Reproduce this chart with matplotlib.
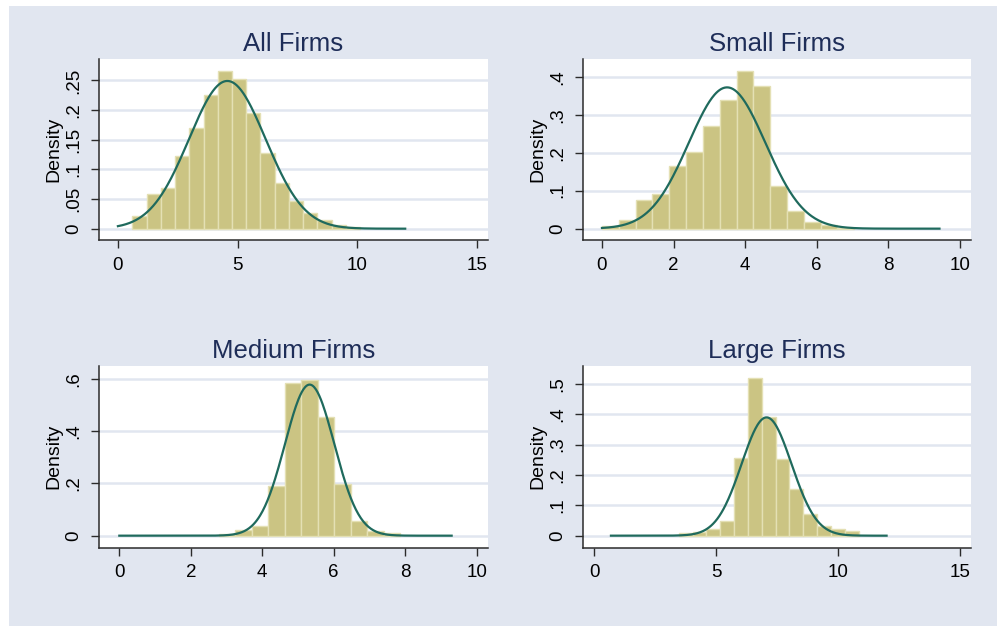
import numpy as np
import matplotlib
matplotlib.use("Agg")
import matplotlib.pyplot as plt
from matplotlib.patches import Rectangle

# ----------------------------
# Data
# ----------------------------
TITLES = ["All Firms", "Small Firms", "Medium Firms", "Large Firms"]

# histogram bins: first left edge, bin width, densities
ALL_START, ALL_WIDTH = 0.60, 0.595
ALL_DENS = [0.0214, 0.0586, 0.068, 0.1227, 0.170, 0.2258, 0.2658, 0.2517,
            0.1954, 0.1278, 0.0771, 0.0473, 0.0259, 0.0141, 0.0065, 0.002]

SMALL_START, SMALL_WIDTH = 0.0, 0.47
SMALL_DENS = [0.0079, 0.0229, 0.0765, 0.0914, 0.165, 0.201, 0.270, 0.338,
              0.416, 0.375, 0.1125, 0.0466, 0.0185, 0.0088, 0.003]

MEDIUM_START, MEDIUM_WIDTH = 2.79, 0.461
MEDIUM_DENS = [0.0076, 0.020, 0.037, 0.1885, 0.583, 0.595, 0.4535, 0.199,
               0.055, 0.0166, 0.009]

LARGE_START, LARGE_WIDTH = 3.46, 0.567
LARGE_DENS = [0.0076, 0.011, 0.021, 0.047, 0.256, 0.519, 0.391, 0.254,
              0.153, 0.0714, 0.033, 0.021, 0.0154]

# normal overlay: mean, sd, data range
NORMAL = [
    (4.57, 1.602, 0.0, 12.0),
    (3.495, 1.0725, 0.0, 9.43),
    (5.326, 0.691, 0.0, 9.30),
    (7.06, 1.023, 0.68, 11.98),
]

XTICKS = [[0, 5, 10, 15], [0, 2, 4, 6, 8, 10], [0, 2, 4, 6, 8, 10], [0, 5, 10, 15]]
YTICKS = [[0, 0.05, 0.1, 0.15, 0.2, 0.25], [0, 0.1, 0.2, 0.3, 0.4],
          [0, 0.2, 0.4, 0.6], [0, 0.1, 0.2, 0.3, 0.4, 0.5]]
YTICKLABELS = [["0", ".05", ".1", ".15", ".2", ".25"], ["0", ".1", ".2", ".3", ".4"],
               ["0", ".2", ".4", ".6"], ["0", ".1", ".2", ".3", ".4", ".5"]]

# ----------------------------
# Layout / style
# ----------------------------
XLIMS = [(-0.79, 15.46), (-0.54, 10.31), (-0.56, 10.31), (-0.48, 15.44)]
YLIMS = [(-0.0191, 0.286), (-0.0299, 0.4466), (-0.0459, 0.6484), (-0.0396, 0.5593)]
POS = [
    [0.0993, 0.6166, 0.3902, 0.2891],
    [0.5844, 0.6166, 0.3895, 0.2891],
    [0.0996, 0.1251, 0.3896, 0.2902],
    [0.5844, 0.1251, 0.3895, 0.2902],
]

BG = "#E1E6F0"
GRID = "#E1E6F0"
BAR_FILL = "#CBC483"
BAR_EDGE = "#E4E0B4"
CURVE = "#1F6A5D"
TITLE_C = "#1E2D58"
AXIS_C = "#2b2b2b"

plt.rcParams.update({
    "font.family": ["Liberation Sans", "DejaVu Sans"],
    "font.size": 13.5,
})

fig = plt.figure(figsize=(9.97, 6.26), dpi=100)
fig.patch.set_facecolor("white")
fig.patches.append(Rectangle((9 / 997, 0), 1 - 9 / 997, 1 - 6 / 626,
                             transform=fig.transFigure, facecolor=BG,
                             edgecolor="none", zorder=-10))

hists = [
    (ALL_START, ALL_WIDTH, ALL_DENS),
    (SMALL_START, SMALL_WIDTH, SMALL_DENS),
    (MEDIUM_START, MEDIUM_WIDTH, MEDIUM_DENS),
    (LARGE_START, LARGE_WIDTH, LARGE_DENS),
]

for i, (start, width, dens) in enumerate(hists):
    ax = fig.add_axes(POS[i])
    ax.set_facecolor("white")

    lefts = start + width * np.arange(len(dens))
    ax.bar(lefts, dens, width=width, align="edge", color=BAR_FILL,
           edgecolor=BAR_EDGE, linewidth=1.0, zorder=2)

    mu, sd, lo, hi = NORMAL[i]
    xs = np.linspace(lo, hi, 400)
    ys = np.exp(-0.5 * ((xs - mu) / sd) ** 2) / (sd * np.sqrt(2 * np.pi))
    ax.plot(xs, ys, color=CURVE, linewidth=1.6, zorder=3)

    ax.set_xlim(*XLIMS[i])
    ax.set_ylim(*YLIMS[i])
    ax.set_xticks(XTICKS[i])
    ax.set_yticks(YTICKS[i])
    ax.set_yticklabels(YTICKLABELS[i], rotation=90, va="center")

    for y in YTICKS[i]:
        ax.axhline(y, color=GRID, linewidth=1.8, zorder=1)

    for side in ["top", "right"]:
        ax.spines[side].set_visible(False)
    for side in ["left", "bottom"]:
        ax.spines[side].set_color(AXIS_C)
        ax.spines[side].set_linewidth(1.1)

    ax.tick_params(direction="out", length=6, width=1.0, color=AXIS_C,
                   pad=6, labelsize=13.5, labelcolor="black")
    ax.set_ylabel("Density", fontsize=14, labelpad=2)
    ax.set_title(TITLES[i], fontsize=18.5, color=TITLE_C, pad=6)

fig.savefig("out.png", dpi=100, facecolor=fig.get_facecolor())
